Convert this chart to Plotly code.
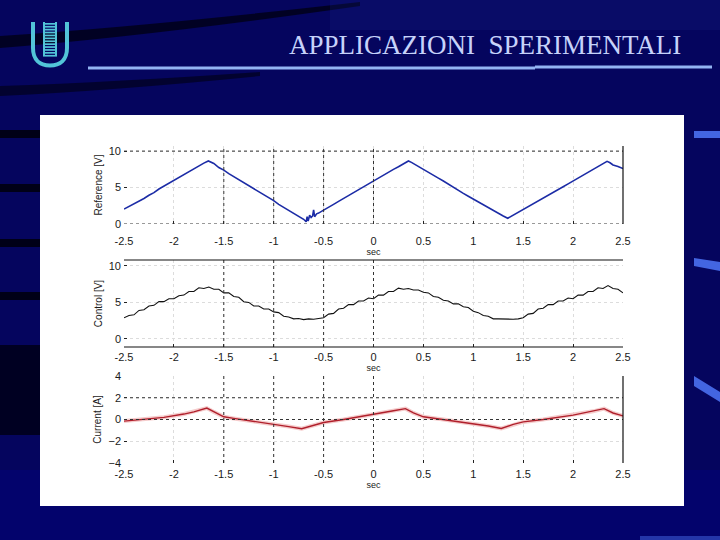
import numpy as np
import plotly.graph_objects as go

W, H = 720, 540

# ---------------- data ----------------
x_ticks = [-2.5, -2, -1.5, -1, -0.5, 0, 0.5, 1, 1.5, 2, 2.5]
x_ticktext = ["-2.5", "-2", "-1.5", "-1", "-0.5", "0", "0.5", "1", "1.5", "2", "2.5"]

ref_t = [-2.5, -2.45, -2.4, -2.35, -2.3, -2.25, -2.2, -2.15, -2.1, -2.05, -2.0, -1.95, -1.9, -1.85,
         -1.8, -1.75, -1.7, -1.655, -1.63, -1.6, -1.55, -1.5, -1.45, -1.4, -1.35, -1.3, -1.25, -1.2,
         -1.15, -1.1, -1.05, -1.0, -0.95, -0.9, -0.85, -0.8, -0.75, -0.7, -0.675, -0.665, -0.655,
         -0.64, -0.625, -0.61, -0.6, -0.59, -0.57, -0.55, -0.5, -0.45, -0.4, -0.35, -0.3, -0.25,
         -0.2, -0.15, -0.1, -0.05, 0.0, 0.05, 0.1, 0.15, 0.2, 0.25, 0.3, 0.35, 0.38, 0.4, 0.45,
         0.5, 0.55, 0.6, 0.65, 0.7, 0.75, 0.8, 0.85, 0.9, 0.95, 1.0, 1.05, 1.1, 1.15, 1.2, 1.25,
         1.3, 1.345, 1.4, 1.45, 1.5, 1.55, 1.6, 1.65, 1.7, 1.75, 1.8, 1.85, 1.9, 1.95, 2.0, 2.05,
         2.1, 2.15, 2.2, 2.25, 2.3, 2.34, 2.37, 2.4, 2.45, 2.5]
ref_v = [2.05, 2.4, 2.7, 3.15, 3.5, 3.95, 4.3, 4.8, 5.2, 5.55, 6.0, 6.4, 6.85, 7.2,
         7.6, 8.0, 8.35, 8.65, 8.5, 8.3, 7.75, 7.4, 6.9, 6.5, 6.1, 5.7, 5.2, 4.8,
         4.45, 4.0, 3.6, 3.2, 2.7, 2.3, 1.95, 1.5, 1.05, 0.65, 0.3, 1.0, 0.4,
         1.2, 0.9, 1.1, 1.95, 1.0, 1.4, 1.5, 1.9, 2.35, 2.7, 3.1, 3.5, 3.95,
         4.3, 4.75, 5.1, 5.6, 6.0, 6.4, 6.8, 7.1, 7.5, 7.85, 8.25, 8.65, 8.45, 8.3, 7.9,
         7.5, 7.1, 6.7, 6.3, 5.9, 5.45, 5.0, 4.6, 4.2, 3.8, 3.4, 3.0, 2.6, 2.25, 1.8, 1.5,
         1.1, 0.78, 1.2, 1.55, 2.0, 2.35, 2.8, 3.1, 3.5, 3.9, 4.3, 4.7, 5.1, 5.5, 5.9, 6.25,
         6.7, 7.05, 7.5, 7.85, 8.3, 8.6, 8.4, 8.1, 7.9, 7.6]

ctl_t = [round(v, 2) for v in np.arange(-2.5, 2.5001, 0.05)]
ctl_v = [2.9, 3.2, 3.3, 3.9, 4.0, 4.5, 4.6, 5.1, 5.1, 5.5, 5.5, 5.9, 6.0, 6.5, 6.5, 7.0, 6.9, 7.1,
         6.8, 6.8, 6.3, 6.3, 5.8, 5.7, 5.1, 5.0, 4.5, 4.5, 4.1, 4.1, 3.7, 3.6, 3.1, 3.0, 2.75,
         2.8, 2.65, 2.75, 2.7, 2.75, 2.9, 3.4, 3.5, 4.1, 4.2, 4.7, 4.7, 5.2, 5.2, 5.6, 5.5,
         6.0, 6.0, 6.5, 6.5, 6.95, 6.8, 6.9, 6.7, 6.7, 6.4, 6.3, 5.8, 5.7, 5.3, 5.2, 4.8,
         4.8, 4.4, 4.3, 3.8, 3.6, 3.2, 3.1, 2.75, 2.75, 2.7, 2.7, 2.7, 2.75, 2.9, 3.4, 3.5,
         4.1, 4.2, 4.7, 4.7, 5.2, 5.2, 5.6, 5.5, 6.0, 6.0, 6.5, 6.5, 7.0, 6.9, 7.3, 6.9,
         6.8, 6.3]

cur_t = [-2.5, -2.3, -2.1, -1.9, -1.8, -1.67, -1.6, -1.5, -1.4, -1.2, -1.0, -0.85, -0.72,
         -0.6, -0.5, -0.3, -0.1, 0.0, 0.2, 0.32, 0.4, 0.5, 0.7, 1.0, 1.15, 1.28, 1.4, 1.5,
         1.7, 2.0, 2.2, 2.31, 2.4, 2.5]
cur_v = [-0.15, 0.0, 0.2, 0.5, 0.7, 1.05, 0.7, 0.25, 0.1, -0.15, -0.45, -0.65, -0.85,
         -0.55, -0.28, 0.0, 0.3, 0.5, 0.8, 1.0, 0.6, 0.25, 0.0, -0.37, -0.6, -0.83, -0.45,
         -0.22, 0.0, 0.4, 0.75, 1.0, 0.6, 0.33]

ref_ticks = [0, 5, 10]
ctl_ticks = [0, 5, 10]
cur_ticks = [-4, -2, 0, 2, 4]

# ---------------- helpers ----------------
def PX(x):
    return x / W


def PY(y):
    return 1 - y / H


x_dom = [PX(124), PX(623)]
doms = [[PY(224), PY(146)], [PY(347), PY(260)], [PY(463), PY(376)]]
yranges = [[0, 10.7], [-1.1, 10.8], [-4, 4]]
ytitles = ["Reference [V]", "Control [V]", "Current [A]"]
yticks = [ref_ticks, ctl_ticks, cur_ticks]
xstand = [9, 2, 3]

fig = go.Figure()

fig.add_trace(go.Scatter(x=ref_t, y=ref_v, mode="lines", xaxis="x", yaxis="y",
                         line=dict(color="#1c2ca6", width=1.6), showlegend=False))
fig.add_trace(go.Scatter(x=ctl_t, y=ctl_v, mode="lines", xaxis="x2", yaxis="y2",
                         line=dict(color="#111111", width=1.1), showlegend=False))
fig.add_trace(go.Scatter(x=cur_t, y=cur_v, mode="lines", xaxis="x3", yaxis="y3",
                         line=dict(color="#f5cccc", width=4), showlegend=False))
fig.add_trace(go.Scatter(x=cur_t, y=cur_v, mode="lines", xaxis="x3", yaxis="y3",
                         line=dict(color="#b0202c", width=1.4), showlegend=False))

FONT = "Liberation Sans, Arial, sans-serif"
tickfont = dict(family=FONT, size=11, color="#1a1a1a")
layout = {}
for i in range(3):
    sx = "" if i == 0 else str(i + 1)
    layout["xaxis" + sx] = dict(
        domain=x_dom, range=[-2.5, 2.5], anchor="y" + sx, automargin=False,
        tickvals=x_ticks, ticktext=x_ticktext, tickfont=tickfont,
        showgrid=True, gridcolor="#dcdcdc", griddash="dot", gridwidth=1,
        zeroline=False, showline=False, ticks="inside", ticklen=3, tickcolor="#222",
        ticklabelstandoff=xstand[i],
        title=dict(text="sec", font=dict(family=FONT, size=9, color="#1a1a1a"), standoff=2),
    )
    layout["yaxis" + sx] = dict(
        domain=doms[i], range=yranges[i], anchor="x" + sx, automargin=False,
        tickvals=yticks[i], tickfont=tickfont,
        showgrid=True, gridcolor="#dcdcdc", griddash="dot", gridwidth=1,
        zeroline=False, showline=False, ticks="inside", ticklen=3, tickcolor="#222",
        ticklabelstandoff=2,
        title=dict(text=ytitles[i], font=dict(family=FONT, size=10, color="#1a1a1a"), standoff=4),
    )

shapes = []
# background bands
shapes.append(dict(type="rect", xref="paper", yref="paper", x0=0, x1=1, y0=0, y1=PY(470),
                   fillcolor="#02027a", opacity=0.5, line_width=0, layer="below"))
shapes.append(dict(type="rect", xref="paper", yref="paper", x0=0, x1=PX(40), y0=PY(435), y1=PY(345),
                   fillcolor="#000018", opacity=0.85, line_width=0, layer="below"))
# top dark sweeps
shapes.append(dict(type="path", xref="paper", yref="paper", layer="below",
                   path=f"M 0 {PY(36)} Q {PX(150)} {PY(26)} {PX(360)} {PY(2)} L {PX(360)} {PY(6)} Q {PX(150)} {PY(36)} 0 {PY(48)} Z",
                   fillcolor="#000010", opacity=0.75, line_width=0))
shapes.append(dict(type="path", xref="paper", yref="paper", layer="below",
                   path=f"M 0 {PY(86)} Q {PX(120)} {PY(82)} {PX(260)} {PY(72)} L {PX(260)} {PY(76)} Q {PX(120)} {PY(90)} 0 {PY(96)} Z",
                   fillcolor="#000010", opacity=0.6, line_width=0))
shapes.append(dict(type="rect", xref="paper", yref="paper", x0=PX(330), x1=1, y0=PY(30), y1=1,
                   fillcolor="#1a2a8c", opacity=0.2, line_width=0, layer="below"))
# left black streaks
for yc in [134, 188, 243, 296]:
    shapes.append(dict(type="rect", xref="paper", yref="paper", x0=0, x1=PX(40), y0=PY(yc + 4), y1=PY(yc - 4),
                       fillcolor="#000010", opacity=0.9, line_width=0, layer="below"))
# right blue streaks
shapes.append(dict(type="rect", xref="paper", yref="paper", x0=PX(694), x1=1, y0=PY(138), y1=PY(131),
                   fillcolor="#4a70f0", opacity=0.9, line_width=0, layer="below"))
shapes.append(dict(type="path", xref="paper", yref="paper", layer="below",
                   path=f"M {PX(694)} {PY(258)} L {PX(720)} {PY(262)} L {PX(720)} {PY(271)} L {PX(694)} {PY(266)} Z",
                   fillcolor="#4a70f0", opacity=0.9, line_width=0))
shapes.append(dict(type="path", xref="paper", yref="paper", layer="below",
                   path=f"M {PX(694)} {PY(376)} L {PX(720)} {PY(392)} L {PX(720)} {PY(402)} L {PX(694)} {PY(386)} Z",
                   fillcolor="#4a70f0", opacity=0.9, line_width=0))
shapes.append(dict(type="rect", xref="paper", yref="paper", x0=PX(640), x1=1, y0=PY(540), y1=PY(536),
                   fillcolor="#3a58d0", opacity=0.6, line_width=0, layer="below"))
# white panel
shapes.append(dict(type="rect", xref="paper", yref="paper", x0=PX(40), x1=PX(684), y0=PY(506), y1=PY(115),
                   fillcolor="#ffffff", line_width=0, layer="below"))
# title underline
shapes.append(dict(type="line", xref="paper", yref="paper", x0=PX(88), x1=PX(535), y0=PY(68), y1=PY(68),
                   line=dict(color="#93b4f2", width=3)))
shapes.append(dict(type="line", xref="paper", yref="paper", x0=PX(535), x1=PX(712), y0=PY(67), y1=PY(67),
                   line=dict(color="#93b4f2", width=3)))
# logo
shapes.append(dict(type="path", xref="paper", yref="paper",
                   path=f"M {PX(33)} {PY(22)} L {PX(33)} {PY(48)} C {PX(33)} {PY(60)} {PX(40)} {PY(65.5)} {PX(50)} {PY(65.5)} "
                        f"C {PX(60)} {PY(65.5)} {PX(67)} {PY(60)} {PX(67)} {PY(48)} L {PX(67)} {PY(22)}",
                   line=dict(color="#52c4d8", width=4)))
for k in range(12):
    y0 = 23 + k * 2.9
    shapes.append(dict(type="rect", xref="paper", yref="paper", x0=PX(43), x1=PX(57), y0=PY(y0 + 1.7), y1=PY(y0),
                       fillcolor="#52c4d8", line_width=0))
shapes.append(dict(type="rect", xref="paper", yref="paper", x0=PX(43), x1=PX(45), y0=PY(56), y1=PY(22),
                   fillcolor="#52c4d8", line_width=0))
shapes.append(dict(type="rect", xref="paper", yref="paper", x0=PX(55), x1=PX(57), y0=PY(56), y1=PY(22),
                   fillcolor="#52c4d8", line_width=0))

# darker dotted grid parts and axis box lines
dark_v = [-1.5, -1, -0.5, 0]
dark_h = [[0, 10], [], [0, 2]]
for i in range(3):
    sx = "" if i == 0 else str(i + 1)
    for xv in dark_v:
        shapes.append(dict(type="line", xref="x" + sx, yref="y" + sx + " domain", x0=xv, x1=xv, y0=0, y1=1,
                           line=dict(color="#333333", width=1, dash="dot")))
    for yv in dark_h[i]:
        shapes.append(dict(type="line", xref="x" + sx + " domain", yref="y" + sx, x0=0, x1=1, y0=yv, y1=yv,
                           line=dict(color="#333333", width=1, dash="dot")))
shapes.append(dict(type="line", xref="x domain", yref="y domain", x0=1, x1=1, y0=0, y1=1,
                   line=dict(color="#111", width=1.2)))
shapes.append(dict(type="line", xref="x3 domain", yref="y3 domain", x0=1, x1=1, y0=0, y1=1,
                   line=dict(color="#111", width=1.2)))
shapes.append(dict(type="line", xref="x2 domain", yref="y2 domain", x0=0, x1=1, y0=1, y1=1,
                   line=dict(color="#111", width=1.2)))
shapes.append(dict(type="line", xref="x2 domain", yref="y2 domain", x0=0, x1=1, y0=0, y1=0,
                   line=dict(color="#111", width=1.2)))

annotations = [dict(text="APPLICAZIONI\u00a0\u00a0SPERIMENTALI", xref="paper", yref="paper",
                    x=PX(485), y=PY(45), xanchor="center", yanchor="middle", showarrow=False,
                    font=dict(family="Liberation Serif, Times New Roman, serif", size=27, color="#c6d2fa"))]

fig.update_layout(
    width=W, height=H, margin=dict(l=0, r=0, t=0, b=0, pad=0, autoexpand=False),
    paper_bgcolor="#05055e", plot_bgcolor="rgba(0,0,0,0)",
    shapes=shapes, annotations=annotations, showlegend=False,
    **layout,
)

fig.write_html("out.html", config={"displayModeBar": False},
               post_script="document.body.style.margin='0px';")
